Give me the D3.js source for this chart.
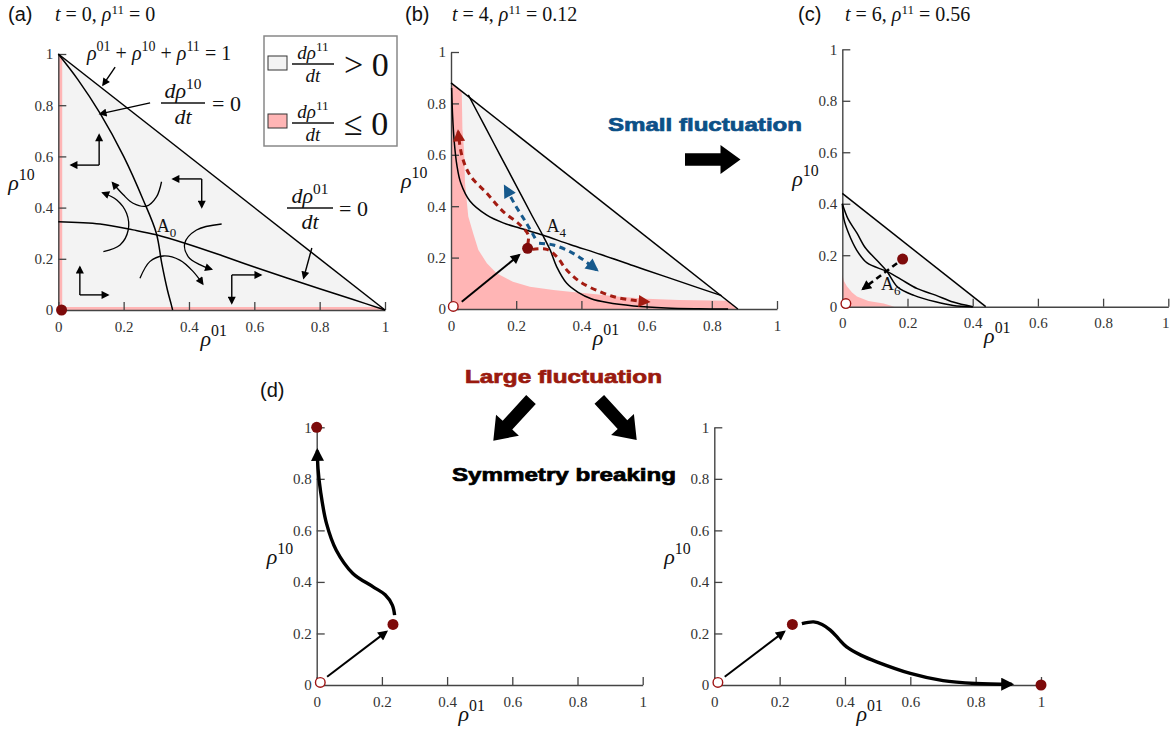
<!DOCTYPE html>
<html><head><meta charset="utf-8">
<script src="https://cdn.jsdelivr.net/npm/d3@7"></script>
<style>body{margin:0;background:#fff} svg{display:block}</style>
</head><body>
<svg id="c" width="1170" height="736"></svg>
<script>
// ---------------- data ----------------
const ticks = [0, 0.2, 0.4, 0.6, 0.8, 1];
const tickLabels = ["0", "0.2", "0.4", "0.6", "0.8", "1"];

// panel (a)  t = 0, rho11 = 0
const aSimplex = [[0,0],[1,0],[0,1]];
const aPink = [[0,0],[0,1],[0.012,0.988],[0.012,0.012],[0.988,0.012],[1,0]];
const aNull10 = [[0,1],[0.06,0.9],[0.128,0.768],[0.2,0.6],[0.26,0.43],[0.30,0.30],[0.317,0.18],[0.334,0.078],[0.346,0.02],[0.35,0]];
const aNull01 = [[0,0.345],[0.128,0.336],[0.229,0.313],[0.30,0.294],[0.39,0.26],[0.5,0.213],[0.6,0.168],[0.7,0.125],[0.8,0.083],[0.9,0.042],[1,0]];
const aFlowArrows = [
  [[0.125,0.566],[0.125,0.684]], [[0.125,0.566],[0.039,0.566]],
  [[0.439,0.512],[0.351,0.512]], [[0.439,0.512],[0.439,0.402]],
  [[0.066,0.059],[0.066,0.168]], [[0.066,0.059],[0.152,0.059]],
  [[0.531,0.137],[0.531,0.027]], [[0.531,0.137],[0.62,0.137]]
];
const aCurvedArrows = [
  [[0.316,0.501],[0.301,0.443],[0.27,0.406],[0.229,0.417],[0.199,0.45],[0.166,0.497]],
  [[0.138,0.228],[0.189,0.254],[0.214,0.3125],[0.209,0.378],[0.179,0.43],[0.136,0.458]],
  [[0.5,0.336],[0.423,0.3125],[0.387,0.26],[0.398,0.208],[0.433,0.177],[0.469,0.159]],
  [[0.25,0.124],[0.28,0.189],[0.321,0.211],[0.372,0.195],[0.413,0.15],[0.442,0.102]]
];
const aPointers = [
  [[0.174,0.949],[0.137,0.879]],
  [[0.281,0.809],[0.128,0.766]],
  [[0.776,0.242],[0.751,0.125]]
];
const aDot = [0.01, 0.0];
const aSaddle = [0.301, 0.306];

// panel (b)  t = 4, rho11 = 0.12
const bSimplex = [[0,0],[0.88,0],[0,0.88]];
const bPink = [[0,0],[0,0.88],[0.033,0.847],[0.035,0.70],[0.040,0.62],[0.043,0.49],[0.053,0.36],[0.068,0.295],[0.084,0.23],[0.11,0.178],[0.14,0.139],[0.19,0.106],[0.242,0.087],[0.314,0.074],[0.365,0.067],[0.437,0.058],[0.518,0.048],[0.6,0.04],[0.7,0.035],[0.848,0.032],[0.88,0]];
const bNull01 = [[0.002,0.86],[0.005,0.75],[0.01,0.65],[0.018,0.56],[0.03,0.49],[0.058,0.42],[0.11,0.365],[0.16,0.335],[0.212,0.314],[0.281,0.288],[0.365,0.251],[0.46,0.212],[0.56,0.168],[0.66,0.125],[0.75,0.086],[0.83,0.052]];
const bNull10 = [[0.053,0.833],[0.10,0.72],[0.15,0.60],[0.20,0.48],[0.25,0.36],[0.281,0.288],[0.304,0.23],[0.324,0.165],[0.355,0.10],[0.39,0.065],[0.43,0.04],[0.48,0.025],[0.56,0.012],[0.66,0.004],[0.76,0.001],[0.85,0]];
const bRedUp = [[0.235,0.25],[0.237,0.288],[0.212,0.327],[0.16,0.379],[0.11,0.45],[0.058,0.521],[0.033,0.599],[0.022,0.69]];
const bRedDown = [[0.25,0.232],[0.294,0.232],[0.324,0.204],[0.355,0.152],[0.396,0.106],[0.457,0.067],[0.518,0.042],[0.605,0.028]];
const bBlueUp = [[0.258,0.275],[0.232,0.333],[0.2,0.398],[0.166,0.476]];
const bBlueDown = [[0.27,0.256],[0.314,0.249],[0.365,0.223],[0.406,0.191],[0.447,0.152]];
const bDot = [0.235, 0.236];
const bOpen = [0.007, 0.01];
const bPush = [[0.033,0.028],[0.209,0.21]];
const bSaddle = [0.293, 0.30];

// panel (c)  t = 6, rho11 = 0.56
const cSimplex = [[0,0],[0.44,0],[0,0.44]];
const cPink = [[0,0],[0,0.125],[0.005,0.1],[0.014,0.079],[0.03,0.055],[0.045,0.04],[0.08,0.022],[0.127,0.012],[0.16,0]];
const cNullA = [[0,0.40],[0.005,0.34],[0.019,0.286],[0.044,0.22],[0.076,0.17],[0.137,0.137],[0.18,0.106],[0.23,0.07],[0.286,0.045],[0.34,0.018],[0.40,0]];
const cNullB = [[0,0.40],[0.018,0.34],[0.045,0.286],[0.07,0.23],[0.106,0.18],[0.137,0.137],[0.17,0.076],[0.22,0.044],[0.286,0.019],[0.34,0.005],[0.40,0]];
const cDot = [0.185, 0.185];
const cOpen = [0.011, 0.012];
const cRelax = [[0.168,0.169],[0.063,0.069]];
const cSaddle = [0.119, 0.066];

// panel (d)
const dLPath = [[0.239,0.271],[0.232,0.31],[0.21,0.35],[0.173,0.381],[0.111,0.433],[0.06,0.523],[0.03,0.627],[0.012,0.75],[0.004,0.84],[0.002,0.91]];
const dRPath = [[0.268,0.238],[0.304,0.245],[0.33,0.235],[0.355,0.213],[0.38,0.18],[0.405,0.148],[0.45,0.115],[0.497,0.09],[0.6,0.045],[0.7,0.017],[0.8,0.006],[0.91,0.003]];
const dLDots = [[0,1],[0.234,0.235]];
const dRDots = [[0.239,0.235],[1,0]];
const dOpen = [0.011, 0.01];
const dPush = [[0.032,0.032],[0.214,0.207]];

// ---------------- drawing ----------------
const serif = "'Liberation Serif','Times New Roman',serif";
const sans = "'Liberation Sans',Arial,Helvetica,sans-serif";
const PINK = "#ffb5b5", GRAY = "#f3f3f3", DOT = "#7d0a0a", RED = "#a31c12", BLUE = "#16598c";
const W = 1170;
const svg = d3.select("#c");
const defs = svg.append("defs");
function marker(id, color, w, h) {
  defs.append("marker").attr("id", id).attr("viewBox", "0 0 10 10")
    .attr("refX", 8).attr("refY", 5).attr("markerWidth", w).attr("markerHeight", h)
    .attr("markerUnits", "userSpaceOnUse").attr("orient", "auto")
    .append("path").attr("d", "M0,0 L10,5 L0,10 Z").attr("fill", color);
}
marker("mSmall", "#000", 9, 8);
marker("mBlack", "#000", 12, 10);
marker("mRed", RED, 13, 12);
marker("mBlue", BLUE, 14, 13);
marker("mThick", "#000", 16, 13);

const curve = d3.line().curve(d3.curveCatmullRom.alpha(0.5));

function panel(x0, x1, y0, y1) {
  const x = d3.scaleLinear().domain([0,1]).range([x0,x1]);
  const y = d3.scaleLinear().domain([0,1]).range([y0,y1]);
  const g = svg.append("g");
  const layers = { fill: g.append("g"), axes: g.append("g"), lines: g.append("g"), marks: g.append("g") };
  const fmt = (d,i) => tickLabels[i];
  const ax = layers.axes.append("g").attr("transform", `translate(0,${y0})`)
    .call(d3.axisBottom(x).tickValues(ticks).tickFormat(fmt).tickSizeInner(-8).tickSizeOuter(0).tickPadding(11));
  const ay = layers.axes.append("g").attr("transform", `translate(${x0},0)`)
    .call(d3.axisLeft(y).tickValues(ticks).tickFormat(fmt).tickSizeInner(-8).tickSizeOuter(0).tickPadding(5));
  [ax, ay].forEach(a => {
    a.attr("font-family", serif).attr("font-size", 15);
    a.select(".domain").attr("stroke", "#444").attr("stroke-width", 1.4);
    a.selectAll(".tick line").attr("stroke", "#444").attr("stroke-width", 1.3);
    a.selectAll(".tick text").style("font-family", serif).style("font-size", "15px").attr("fill", "#333");
  });
  // keep the last x tick label inside the page
  ax.selectAll(".tick text").filter(d => x(d) + 5 > W).attr("text-anchor", "end").attr("x", W - x1 - 1);
  const P = p => [x(p[0]), y(p[1])];
  rhoText(layers.axes, x0 - 50, y(0.47), "10", 22);
  rhoText(layers.axes, x(0.435), y0 + 36, "01", 22);
  return { x, y, P, ...layers };
}
function rhoText(g, px, py, sup, size) {
  const t = g.append("text").attr("x", px).attr("y", py).attr("font-family", serif).attr("font-size", size).attr("fill", "#111");
  t.append("tspan").attr("font-style", "italic").text("ρ");
  t.append("tspan").attr("font-size", size * 0.72).attr("dy", -size * 0.45).text(sup);
  return t;
}
function poly(g, pts, P, fill) {
  g.append("path").attr("d", "M" + pts.map(P).join("L") + "Z").attr("fill", fill);
}
function smooth(g, pts, P, stroke, w, opts = {}) {
  const p = g.append("path").attr("d", curve(pts.map(P))).attr("fill", "none")
    .attr("stroke", stroke).attr("stroke-width", w);
  if (opts.dash) p.attr("stroke-dasharray", opts.dash);
  if (opts.marker) p.attr("marker-end", `url(#${opts.marker})`);
  return p;
}
function straight(g, pts, P, stroke, w, opts = {}) {
  const p = g.append("path").attr("d", "M" + pts.map(P).join("L")).attr("fill", "none")
    .attr("stroke", stroke).attr("stroke-width", w);
  if (opts.dash) p.attr("stroke-dasharray", opts.dash);
  if (opts.marker) p.attr("marker-end", `url(#${opts.marker})`);
  return p;
}
function dotF(g, p, P) { const [cx, cy] = P(p); g.append("circle").attr("cx", cx).attr("cy", cy).attr("r", 5.5).attr("fill", DOT); }
function dotO(g, p, P) { const [cx, cy] = P(p); g.append("circle").attr("cx", cx).attr("cy", cy).attr("r", 4.8).attr("fill", "#fff").attr("stroke", "#a01515").attr("stroke-width", 1.4); }
function hyp(g, s, P) { straight(g, [s[2], s[1]], P, "#000", 1.5); }
function title(px, py, lab, tv, rv) {
  svg.append("text").attr("x", px).attr("y", py).attr("font-family", sans).attr("font-size", 20).attr("fill", "#111").text(lab);
  const t = svg.append("text").attr("x", px + 47).attr("y", py).attr("font-family", serif).attr("font-size", 20).attr("fill", "#111");
  t.append("tspan").attr("font-style", "italic").text("t");
  t.append("tspan").text(" = " + tv + ", ");
  t.append("tspan").attr("font-style", "italic").text("ρ");
  t.append("tspan").attr("font-size", 13).attr("dy", -7).text("11");
  t.append("tspan").attr("dy", 7).text(" = " + rv);
}
function frac(g, cx, yBar, sup, size, barW) {
  const t = g.append("text").attr("x", cx).attr("y", yBar - 5).attr("text-anchor", "middle").attr("font-family", serif).attr("font-size", size).attr("fill", "#111");
  t.append("tspan").attr("font-style", "italic").text("dρ");
  t.append("tspan").attr("font-size", size * 0.7).attr("dy", -size * 0.42).text(sup);
  g.append("line").attr("x1", cx - barW / 2).attr("x2", cx + barW / 2).attr("y1", yBar).attr("y2", yBar).attr("stroke", "#111").attr("stroke-width", 1.6);
  g.append("text").attr("x", cx).attr("y", yBar + size * 0.95).attr("text-anchor", "middle").attr("font-family", serif).attr("font-size", size).attr("font-style", "italic").attr("fill", "#111").text("dt");
}
function subLabel(g, p, P, sub) {
  const [px, py] = P(p);
  const t = g.append("text").attr("x", px).attr("y", py).attr("font-family", serif).attr("font-size", 18).attr("fill", "#111");
  t.append("tspan").text("A");
  t.append("tspan").attr("font-size", 13).attr("dy", 5).text(sub);
}
function blockArrow(x1, y1, x2, y2, sw, hw, hl) {
  const L = Math.hypot(x2 - x1, y2 - y1), ang = Math.atan2(y2 - y1, x2 - x1) * 180 / Math.PI;
  const pts = [[0,-sw/2],[L-hl,-sw/2],[L-hl,-hw/2],[L,0],[L-hl,hw/2],[L-hl,sw/2],[0,sw/2]];
  svg.append("path").attr("d", "M" + pts.join("L") + "Z").attr("fill", "#000")
    .attr("transform", `translate(${x1},${y1}) rotate(${ang})`);
}

// ---- panel (a)
title(8, 21, "(a)", "0", "0");
const A = panel(58.3, 385, 310, 54);
poly(A.fill, aSimplex, A.P, GRAY);
poly(A.fill, aPink, A.P, PINK);
hyp(A.lines, aSimplex, A.P);
smooth(A.lines, aNull10, A.P, "#000", 1.5);
smooth(A.lines, aNull01, A.P, "#000", 1.5);
aFlowArrows.forEach(s => straight(A.marks, s, A.P, "#000", 1.4, { marker: "mSmall" }));
aCurvedArrows.forEach(s => smooth(A.marks, s, A.P, "#000", 1.3, { marker: "mSmall" }));
aPointers.forEach(s => straight(A.marks, s, A.P, "#000", 1.4, { marker: "mSmall" }));
dotF(A.marks, aDot, A.P);
subLabel(A.marks, aSaddle, A.P, "0");
{
  const t = A.marks.append("text").attr("x", 87).attr("y", 60).attr("font-family", serif).attr("font-size", 20).attr("fill", "#111");
  const parts = [["ρ","01"," + "],["ρ","10"," + "],["ρ","11"," = 1"]];
  parts.forEach(([r, s, tail]) => {
    t.append("tspan").attr("font-style", "italic").text(r);
    t.append("tspan").attr("font-size", 14).attr("dy", -9).text(s);
    t.append("tspan").attr("dy", 9).text(tail);
  });
  frac(A.marks, 183, 103, "10", 22, 44);
  A.marks.append("text").attr("x", 212).attr("y", 111).attr("font-family", serif).attr("font-size", 22).attr("fill", "#111").text("= 0");
  frac(A.marks, 310, 208, "01", 22, 46);
  A.marks.append("text").attr("x", 339).attr("y", 216).attr("font-family", serif).attr("font-size", 22).attr("fill", "#111").text("= 0");
  const lg = A.marks.append("g");
  lg.append("rect").attr("x", 264).attr("y", 36).attr("width", 133).attr("height", 110).attr("fill", "#fff").attr("stroke", "#888").attr("stroke-width", 1.5);
  lg.append("rect").attr("x", 268).attr("y", 56).attr("width", 19).attr("height", 14).attr("fill", GRAY).attr("stroke", "#333").attr("stroke-width", 1);
  lg.append("rect").attr("x", 268).attr("y", 114).attr("width", 19).attr("height", 14).attr("fill", PINK).attr("stroke", "#333").attr("stroke-width", 1);
  frac(lg, 313, 64, "11", 19, 42);
  frac(lg, 313, 123, "11", 19, 42);
  lg.append("text").attr("x", 344).attr("y", 76).attr("font-family", serif).attr("font-size", 34).attr("fill", "#111").text("> 0");
  lg.append("text").attr("x", 344).attr("y", 135).attr("font-family", serif).attr("font-size", 34).attr("fill", "#111").text("≤ 0");
}

// ---- panel (b)
title(405, 21, "(b)", "4", "0.12");
const B = panel(451, 777, 309, 52);
poly(B.fill, bSimplex, B.P, GRAY);
poly(B.fill, bPink, B.P, PINK);
hyp(B.lines, bSimplex, B.P);
smooth(B.lines, bNull01, B.P, "#000", 1.5);
smooth(B.lines, bNull10, B.P, "#000", 1.5);
smooth(B.marks, bRedUp, B.P, RED, 3, { dash: "6,4.5", marker: "mRed" });
smooth(B.marks, bRedDown, B.P, RED, 3, { dash: "6,4.5", marker: "mRed" });
smooth(B.marks, bBlueUp, B.P, BLUE, 3, { dash: "6,4.5", marker: "mBlue" });
smooth(B.marks, bBlueDown, B.P, BLUE, 3, { dash: "6,4.5", marker: "mBlue" });
straight(B.marks, bPush, B.P, "#000", 2, { marker: "mBlack" });
dotO(B.marks, bOpen, B.P);
dotF(B.marks, bDot, B.P);
subLabel(B.marks, bSaddle, B.P, "4");

// ---- panel (c)
title(798, 21, "(c)", "6", "0.56");
const C = panel(842.3, 1168.3, 306.7, 49.3);
poly(C.fill, cSimplex, C.P, GRAY);
poly(C.fill, cPink, C.P, PINK);
hyp(C.lines, cSimplex, C.P);
smooth(C.lines, cNullA, C.P, "#000", 1.5);
smooth(C.lines, cNullB, C.P, "#000", 1.5);
straight(C.marks, cRelax, C.P, "#000", 2.6, { dash: "6,4", marker: "mBlack" });
dotO(C.marks, cOpen, C.P);
dotF(C.marks, cDot, C.P);
subLabel(C.marks, cSaddle, C.P, "6");

// ---- panel (d)
svg.append("text").attr("x", 260).attr("y", 397).attr("font-family", sans).attr("font-size", 20).attr("fill", "#111").text("(d)");
const DL = panel(316.7, 642.7, 685, 427.3);
smooth(DL.marks, dLPath, DL.P, "#000", 3.4, { marker: "mThick" });
straight(DL.marks, dPush, DL.P, "#000", 2, { marker: "mBlack" });
dotO(DL.marks, dOpen, DL.P);
dLDots.forEach(p => dotF(DL.marks, p, DL.P));
const DR = panel(714.3, 1041, 685, 427.3);
smooth(DR.marks, dRPath, DR.P, "#000", 3.4, { marker: "mThick" });
straight(DR.marks, dPush, DR.P, "#000", 2, { marker: "mBlack" });
dotO(DR.marks, dOpen, DR.P);
dRDots.forEach(p => dotF(DR.marks, p, DR.P));

// ---- annotations
function bold(txt, x, y, w, color) {
  svg.append("text").attr("x", x).attr("y", y).attr("font-family", sans).attr("font-weight", "bold")
    .attr("font-size", 19).attr("fill", color).attr("stroke", color).attr("stroke-width", 0.7)
    .attr("textLength", w).attr("lengthAdjust", "spacingAndGlyphs").text(txt);
}
bold("Small fluctuation", 608, 131, 194, "#0c5087");
bold("Large fluctuation", 465, 383, 197, "#9a1a0f");
bold("Symmetry breaking", 452, 481, 224, "#000");
blockArrow(685, 159.5, 740.5, 159.5, 12.5, 29, 20);
blockArrow(531, 399.5, 493.3, 440.7, 13, 31, 21);
blockArrow(599.3, 399.3, 636.7, 440, 13, 31, 21);
</script>
</body></html>
